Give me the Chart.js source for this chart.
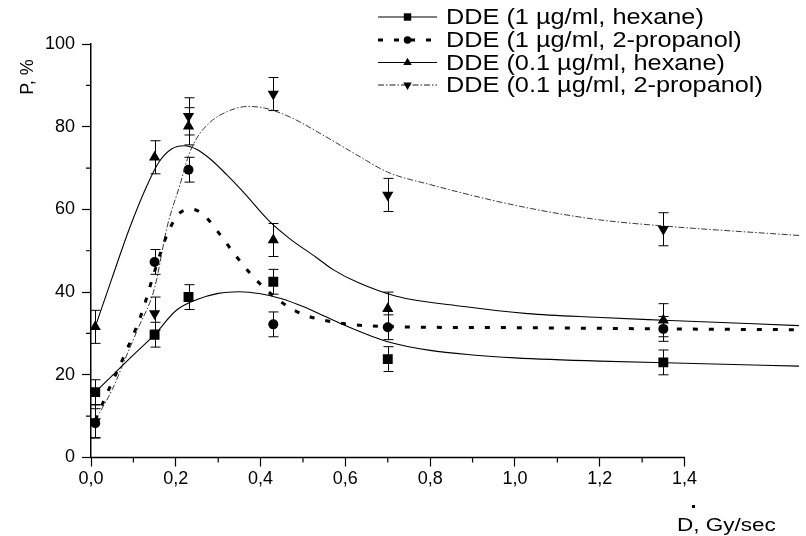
<!DOCTYPE html>
<html>
<head>
<meta charset="utf-8">
<script src="https://cdn.jsdelivr.net/npm/chart.js@4.4.1/dist/chart.umd.min.js"></script>
<style>
  html, body { margin: 0; padding: 0; background: #fff; }
  #wrap { width: 806px; height: 536px; position: relative; }
</style>
</head>
<body>
<div id="wrap"><canvas id="chart"></canvas></div>
<script>
// measured points (dose rate, Gy/sec)
const doseX = [0.01, 0.15, 0.23, 0.43, 0.70, 1.35];

const hex1Y = [15.8, 29.7, 38.8, 42.5, 23.8, 23.0];
const hex1Err = [3, 3, 3, 3, 3, 3];
const prop1Y = [8.3, 47.3, 69.6, 32.2, 31.5, 31.1];
const prop1Err = [3.5, 3, 3, 3, 3, 3];
const hex01Y = [31.6, 72.6, 80.1, 52.6, 36.0, 33.2];
const hex01Err = [4, 4, 4.5, 4, 4, 4];
const prop01Y = [8.7, 34.8, 82.5, 87.9, 63.5, 55.2];
const prop01Err = [4, 4, 4.5, 4, 4, 4];

// fitted curves
const fit1X = [0.01, 0.05, 0.10, 0.15, 0.20, 0.25, 0.30, 0.35, 0.40, 0.45, 0.50, 0.55, 0.60, 0.70, 0.80, 0.90, 1.00, 1.20, 1.40, 1.67];
const fit1Y = [15.8, 19.8, 24.8, 29.7, 35.5, 38.2, 39.7, 40.1, 39.6, 38.4, 36.5, 34.2, 31.9, 28.0, 25.9, 24.8, 24.1, 23.3, 22.8, 22.1];

const fit2X = [0.01, 0.04, 0.08, 0.12, 0.15, 0.18, 0.21, 0.24, 0.27, 0.30, 0.34, 0.38, 0.42, 0.46, 0.50, 0.55, 0.61, 0.72, 1.00, 1.35, 1.67];
const fit2Y = [9.0, 16.0, 25.0, 35.0, 45.0, 54.0, 59.2, 60.0, 58.2, 54.5, 49.0, 44.0, 40.0, 36.8, 34.6, 33.2, 32.2, 31.6, 31.4, 31.1, 30.9];

const fit3X = [0.01, 0.05, 0.09, 0.13, 0.16, 0.19, 0.22, 0.25, 0.28, 0.32, 0.36, 0.42, 0.47, 0.53, 0.57, 0.63, 0.72, 0.88, 1.03, 1.19, 1.35, 1.67];
const fit3Y = [31.6, 43.5, 55.2, 65.3, 71.4, 74.6, 75.4, 74.5, 72.3, 68.4, 64.1, 57.2, 52.8, 48.5, 45.5, 42.3, 39.0, 36.5, 34.8, 33.9, 33.2, 31.9];

const fit4X = [0.01, 0.05, 0.08, 0.11, 0.15, 0.18, 0.21, 0.23, 0.25, 0.28, 0.32, 0.37, 0.41, 0.47, 0.55, 0.63, 0.70, 0.80, 1.00, 1.19, 1.35, 1.67];
const fit4Y = [9.0, 16.4, 23.7, 31.0, 41.0, 56.0, 66.0, 73.0, 77.3, 81.0, 83.6, 84.9, 84.5, 82.3, 77.8, 73.0, 69.0, 66.0, 61.0, 57.6, 56.0, 53.7];

const xTickMax = 1.4;
const legendLabels = [
  'DDE (1 \u00b5g/ml, hexane)',
  'DDE (1 \u00b5g/ml, 2-propanol)',
  'DDE (0.1 \u00b5g/ml, hexane)',
  'DDE (0.1 \u00b5g/ml, 2-propanol)'
];

const FONT = '"Liberation Sans", Arial, Helvetica, sans-serif';

function pts(xs, ys) {
  return xs.map((x, i) => ({ x: x, y: ys[i] }));
}

const curveStyles = [
  { borderWidth: 1.1, borderDash: [] },
  { borderWidth: 3, borderDash: [5, 11] },
  { borderWidth: 1.1, borderDash: [] },
  { borderWidth: 0.9, borderDash: [6, 2, 1.5, 2] }
];
const markers = [
  { pointStyle: 'rect', radius: 7, rotation: 0 },
  { pointStyle: 'circle', radius: 5, rotation: 0 },
  { pointStyle: 'triangle', radius: 6.5, rotation: 0 },
  { pointStyle: 'triangle', radius: 6.5, rotation: 180 }
];

function curveSet(xs, ys, idx) {
  return {
    type: 'line',
    data: pts(xs, ys),
    borderColor: idx === 3 ? '#222' : '#000',
    borderWidth: curveStyles[idx].borderWidth,
    borderDash: curveStyles[idx].borderDash,
    pointRadius: 0,
    fill: false,
    cubicInterpolationMode: 'monotone',
    showLine: true
  };
}

function markerSet(ys, errs, idx) {
  return {
    type: 'scatter',
    data: pts(doseX, ys),
    errors: errs,
    pointStyle: markers[idx].pointStyle,
    pointRadius: markers[idx].radius,
    rotation: markers[idx].rotation,
    backgroundColor: '#000',
    borderColor: '#000',
    borderWidth: 0,
    showLine: false
  };
}

// error bars for marker datasets
const errorBarPlugin = {
  id: 'errorBars',
  beforeDatasetsDraw(chart) {
    const ctx = chart.ctx;
    const xs = chart.scales.x, ys = chart.scales.y;
    ctx.save();
    ctx.strokeStyle = '#000';
    ctx.lineWidth = 1;
    chart.data.datasets.forEach(ds => {
      if (!ds.errors) return;
      ds.data.forEach((p, i) => {
        const px = Math.round(xs.getPixelForValue(p.x)) + 0.5;
        const top = ys.getPixelForValue(p.y + ds.errors[i]);
        const bot = ys.getPixelForValue(p.y - ds.errors[i]);
        ctx.beginPath();
        ctx.moveTo(px, top); ctx.lineTo(px, bot);
        ctx.moveTo(px - 5, top); ctx.lineTo(px + 5, top);
        ctx.moveTo(px - 5, bot); ctx.lineTo(px + 5, bot);
        ctx.stroke();
      });
    });
    ctx.restore();
  }
};

// x axis line that stops at 1,4 plus minor ticks
const axisPlugin = {
  id: 'axisExtras',
  afterDraw(chart) {
    const ctx = chart.ctx;
    const xs = chart.scales.x, ys = chart.scales.y;
    const y0 = chart.chartArea.bottom;
    const x0 = chart.chartArea.left;
    ctx.save();
    ctx.strokeStyle = '#000';
    ctx.lineWidth = 1.5;
    ctx.beginPath();
    ctx.moveTo(x0 - 0.75, y0);
    ctx.lineTo(xs.getPixelForValue(xTickMax) + 0.5, y0);
    ctx.stroke();
    ctx.lineWidth = 1.2;
    ctx.beginPath();
    for (let v = 0.1; v < xTickMax; v += 0.2) {
      const px = xs.getPixelForValue(v);
      ctx.moveTo(px, y0); ctx.lineTo(px, y0 + 5);
    }
    for (let v = 10; v < 100; v += 20) {
      const py = ys.getPixelForValue(v);
      ctx.moveTo(x0, py); ctx.lineTo(x0 - 5, py);
    }
    ctx.stroke();
    ctx.restore();
  }
};

// legend in the upper right, drawn by hand
const legendPlugin = {
  id: 'handLegend',
  afterDraw(chart) {
    const ctx = chart.ctx;
    const rowY = [17, 40, 62.5, 85];
    const lx0 = 378, lx1 = 437, mx = 407.5;
    ctx.save();
    legendLabels.forEach((label, i) => {
      const y = rowY[i];
      const st = curveStyles[i];
      ctx.strokeStyle = '#000';
      ctx.lineWidth = st.borderWidth;
      ctx.setLineDash(st.borderDash);
      ctx.beginPath();
      ctx.moveTo(lx0, y); ctx.lineTo(lx1, y);
      ctx.stroke();
      ctx.setLineDash([]);
      ctx.fillStyle = '#000';
      Chart.helpers.drawPoint(ctx, {
        pointStyle: markers[i].pointStyle,
        radius: markers[i].radius * 0.75,
        rotation: markers[i].rotation,
        borderWidth: 0
      }, mx, y);
      ctx.save();
      ctx.translate(446, y + 1);
      ctx.scale(1.15, 1);
      ctx.font = '22px ' + FONT;
      ctx.textBaseline = 'middle';
      ctx.textAlign = 'left';
      ctx.fillText(label, 0, 0);
      ctx.restore();
    });
    ctx.restore();
  }
};

// axis titles
const titlePlugin = {
  id: 'axisTitles',
  afterDraw(chart) {
    const ctx = chart.ctx;
    ctx.save();
    ctx.fillStyle = '#000';
    ctx.font = '18px ' + FONT;
    ctx.textAlign = 'center';
    ctx.textBaseline = 'middle';
    ctx.save();
    ctx.translate(28, 77);
    ctx.rotate(-Math.PI / 2);
    ctx.fillText('P, %', 0, 0);
    ctx.restore();
    ctx.save();
    ctx.translate(677, 531);
    ctx.scale(1.25, 1);
    ctx.textAlign = 'left';
    ctx.textBaseline = 'alphabetic';
    ctx.fillText('D, Gy/sec', 0, 0);
    ctx.restore();
    ctx.fillRect(692, 505, 3, 3);
    ctx.restore();
  }
};

const ctx = document.getElementById('chart').getContext('2d');
new Chart(ctx, {
  data: {
    datasets: [
      curveSet(fit1X, fit1Y, 0),
      curveSet(fit2X, fit2Y, 1),
      curveSet(fit3X, fit3Y, 2),
      curveSet(fit4X, fit4Y, 3),
      markerSet(hex1Y, hex1Err, 0),
      markerSet(prop1Y, prop1Err, 1),
      markerSet(hex01Y, hex01Err, 2),
      markerSet(prop01Y, prop01Err, 3)
    ]
  },
  options: {
    responsive: true,
    maintainAspectRatio: false,
    animation: false,
    layout: { padding: { top: 44, right: 0, left: 0, bottom: 0 } },
    plugins: {
      legend: { display: false },
      tooltip: { enabled: false }
    },
    scales: {
      x: {
        type: 'linear',
        min: 0,
        max: 1.67,
        afterFit(s) { s.height = 78.5; },
        afterBuildTicks(s) { s.ticks = s.ticks.filter(t => t.value <= xTickMax + 1e-9); },
        border: { display: false },
        grid: { drawOnChartArea: false, drawTicks: true, tickLength: 9, tickColor: '#000', tickWidth: 1.2 },
        ticks: {
          stepSize: 0.2,
          autoSkip: false,
          maxRotation: 0,
          padding: 2,
          color: '#000',
          font: { family: FONT, size: 18 },
          callback: v => v.toFixed(1).replace('.', ',')
        }
      },
      y: {
        min: 0,
        max: 100,
        afterFit(s) { s.width = 91; },
        border: { display: true, color: '#000', width: 1.5 },
        grid: { drawOnChartArea: false, drawTicks: true, tickLength: 9, tickColor: '#000', tickWidth: 1.2 },
        ticks: {
          stepSize: 20,
          padding: 7,
          color: '#000',
          font: { family: FONT, size: 18 }
        }
      }
    }
  },
  plugins: [errorBarPlugin, axisPlugin, legendPlugin, titlePlugin]
});
</script>
</body>
</html>
